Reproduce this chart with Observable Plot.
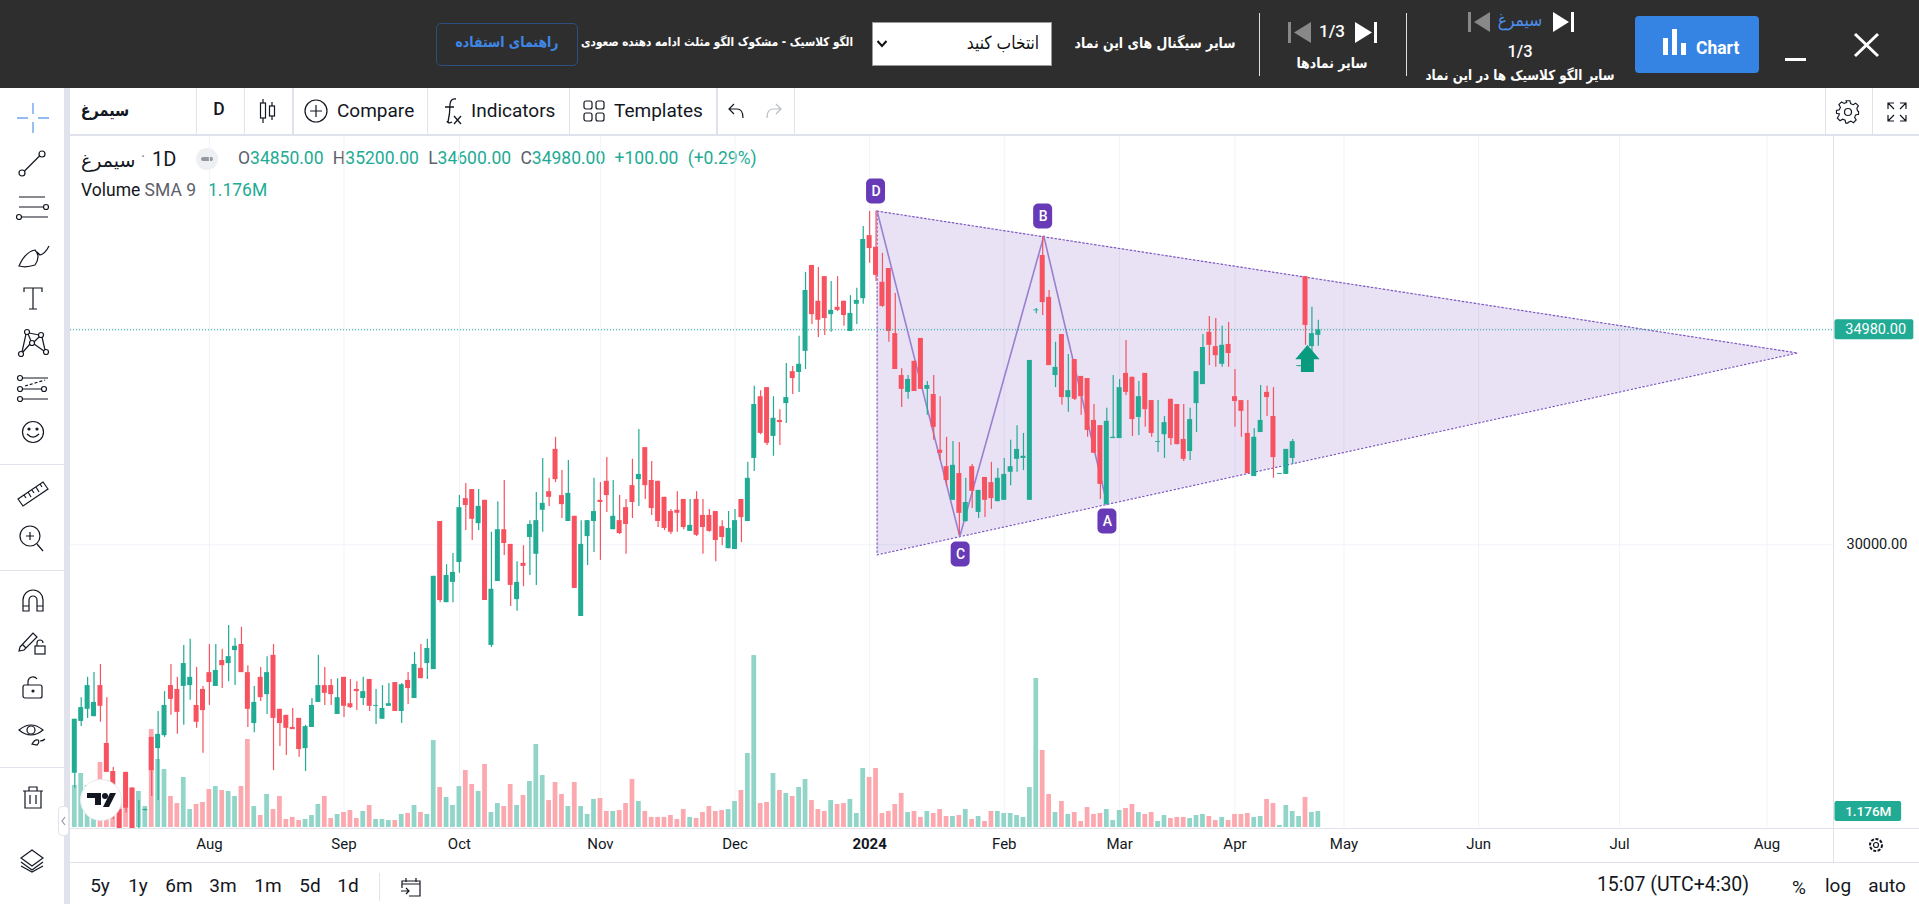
<!DOCTYPE html>
<html><head><meta charset="utf-8">
<script src="https://cdn.jsdelivr.net/npm/d3@7"></script>
<script src="https://cdn.jsdelivr.net/npm/@observablehq/plot@0.6"></script>
<style>
html,body{margin:0;padding:0;background:#fff;overflow:hidden}
#app{position:relative;width:1919px;height:904px;overflow:hidden;font-family:Roboto,"DejaVu Sans",sans-serif;color:#131722}
.box{position:absolute}
.t{position:absolute;white-space:nowrap;transform:translate(-50%,-50%);line-height:1}
.l{position:absolute;white-space:nowrap;transform:translateY(-50%);line-height:1}
.fa{font-family:"DejaVu Sans",Roboto,sans-serif}
.t.fa{transform:translate(-50%,-50%) scaleX(.86)}
.ic{position:absolute;overflow:visible;fill:none;stroke:#131722;stroke-width:1.2}
.plotwrap{position:absolute;left:70px;top:136px}
.plotwrap svg{display:block;overflow:visible}
</style></head><body><div id="app"></div>
<script>
const opens=[24710,25910,26190,26020,26740,25400,24750,23870,24730,24360,23150,23850,25540,25280,25580,26740,26650,26720,26740,26280,26650,27040,26720,27320,27250,27550,27690,27040,25860,26930,26530,27440,26190,26050,25770,25980,25280,25770,26350,26740,26740,26070,26930,26320,26650,26440,26880,26260,25960,26260,26810,26140,26860,26440,27140,27250,27110,30540,28660,29130,29590,31070,31280,30490,31030,27670,29150,30350,30010,28730,29570,30170,29780,30800,31230,32210,31140,30540,30660,28340,30190,30540,31030,31470,30350,30560,30860,31370,31510,32250,31490,31470,31100,30770,30800,31050,30310,31050,30680,30680,30770,30420,29910,29890,31050,30540,32000,33430,33640,32510,32880,33270,34010,33990,34480,36470,35640,36210,35330,35500,35640,34940,35570,35700,37160,36890,36080,36400,34890,33920,33530,34250,34780,33600,33480,32190,31810,31030,31650,30540,31810,30750,31560,31440,31000,31030,31680,31980,32000,31030,35420,36700,35730,33920,34870,33410,34290,33900,33850,32880,32760,30930,32460,32460,33970,33880,32950,33970,33340,32370,32550,33370,33250,32440,32160,33270,33710,34920,34590,34180,34640,33430,33340,32580,31580,32600,33530,32970,31630,31630,32000,34130,36210,34590,34850];
const highs=[25960,26460,26930,27040,27230,26460,24840,23870,24730,24360,24080,23880,25540,26140,26600,27230,26930,27670,27810,27160,26720,27690,27690,27580,28130,27830,28090,27200,26720,27160,27410,27690,26190,26050,26210,25980,25820,26440,27440,27160,26880,26900,26930,26880,26830,26930,26880,26650,26740,26790,26810,26790,27040,27510,27690,27810,29270,30540,29540,29800,31140,31420,31280,31280,31030,30290,31000,31490,30010,29610,29980,30560,31210,32000,31540,32490,31720,31950,30660,30560,30560,31540,31440,32020,31490,31140,31050,31980,32670,32250,31930,31470,31100,30820,31230,31050,31050,31230,31050,30820,30770,30560,30770,30820,31050,31910,33670,33570,33640,33430,33130,34200,34130,34830,36310,36470,36420,36210,36100,36210,35640,35770,35940,37370,37720,37730,36750,36400,35820,34080,33920,34250,34780,33780,33920,33430,32490,32390,32370,31540,31860,31260,31560,31910,31770,32000,32420,32760,32580,34270,35470,37140,35890,34690,34870,34410,34290,33900,33850,33250,32760,33160,33920,33830,34730,33880,33780,33970,33340,33340,32970,33370,33250,33250,33160,34010,34870,35290,35240,35060,35150,34060,33340,33340,32690,33690,33670,33640,31650,32210,32440,34150,36210,35500,35200];
const lows=[24360,25790,25980,26020,25890,24730,23640,22800,23790,23100,23080,23830,24170,24080,25540,26050,25610,25820,26400,25750,25170,26280,26720,26670,26830,26740,27040,25770,25650,26370,26070,24770,25330,25120,25720,25080,24750,25770,26350,26280,26280,26070,26000,26210,26160,26280,26140,25840,25960,26260,26140,25860,26300,26440,26900,26880,27110,28660,28660,28660,29340,30330,30100,30330,28710,27620,29150,29750,28570,28460,29030,29290,29060,30290,30890,31440,30610,30540,28990,28340,29520,29820,29640,30750,30350,30240,29780,30610,30890,31050,30680,30400,30330,30240,30290,30350,30310,30190,29780,30290,29610,29980,29910,29890,30050,30540,31700,32550,32300,32050,32300,32810,33480,33530,34060,35100,34800,34850,34920,35400,35060,34940,35100,35570,36520,36100,35500,34690,34060,33180,33370,33550,33600,33000,32420,31950,31350,31030,30220,30520,30840,30610,30630,30820,31000,31030,31370,31680,31720,31030,35350,35310,34150,33640,33230,33070,33340,33000,32490,32120,31050,30930,32460,32460,33460,32510,32530,32720,32490,32140,32000,32300,32320,31930,31950,32600,33710,34150,34110,34110,34110,32720,32490,31650,31580,32600,32970,31540,31630,31630,31860,34120,34620,34450,34600];
const closes=[25960,26230,26740,26350,26260,24730,24230,22920,23900,23150,23380,23870,24770,25610,26280,26420,26120,27250,26930,25890,26160,26810,27090,27200,27410,27650,27040,26190,26350,26460,27040,25980,25860,25750,25720,25260,25790,26280,26740,26560,26530,26460,26260,26230,26600,26600,26260,26280,26210,26320,26140,26760,26670,27230,26900,27600,29270,28710,29290,29360,30860,30910,30590,30890,28710,28970,30350,30030,29060,29130,29500,30470,30560,30960,31100,31510,30930,31190,28990,30010,30560,30770,30980,31140,30660,30260,30470,30980,31630,31370,30840,30540,30380,30290,30730,30400,30450,30220,30400,30310,30100,30170,30380,30560,30630,31540,33250,32580,32350,32930,32830,33410,33850,34180,35890,35330,35200,35240,35430,35430,35310,35360,35660,37070,36860,36240,35520,34940,34060,33600,33830,33550,33600,33690,32720,32120,31490,31840,30730,30980,31240,31260,31030,31070,31540,31630,31810,32210,32050,34270,35440,35610,34150,34110,33410,33570,33370,33430,32650,32120,31400,32860,32490,33640,33530,32900,33430,33130,32580,32390,32830,32460,32320,31980,32900,34010,34570,34620,34380,34620,34430,33320,33090,31650,32490,32880,33410,32020,31650,32210,32390,34150,35080,34890,34980];
const volumesM=[3.09,3.97,3.09,3.09,4.78,3.45,2.45,2.06,1.72,2.94,2.65,1.54,7.2,5,4.26,2.28,1.76,3.68,1.32,1.69,1.84,2.79,3.01,2.72,2.65,2.28,3.01,6.47,1.54,.88,2.43,1.32,2.28,.59,.74,.51,.59,.88,1.69,2.28,.66,.96,1.1,1.25,.66,1.18,1.62,.59,.59,.51,.51,.96,1.03,1.62,1.1,.96,6.39,2.94,2.21,1.62,3.01,4.19,3.16,2.65,4.63,1.1,1.76,1.54,3.16,1.62,2.35,3.38,6.1,3.82,1.98,3.31,2.43,1.54,3.31,1.54,.96,2.06,2.13,1.18,1.18,1.25,1.76,3.53,1.91,1.18,.74,.74,.74,.88,.59,1.32,.74,.66,1.1,1.54,1.18,1.25,1.32,1.91,2.72,5.44,12.64,1.76,1.84,3.97,2.72,2.5,2.28,2.94,3.53,1.98,1.32,1.18,1.98,1.69,1.76,2.06,1.03,4.34,3.68,4.34,1.03,1.18,1.69,2.5,1.1,1.18,.74,1.18,1.03,1.32,.81,.81,.88,1.32,.59,.81,.44,1.18,1.18,1.03,1.03,.88,.74,2.94,10.95,5.66,2.43,1.1,1.91,.96,1.1,.44,1.47,.96,1.03,1.32,.51,1.25,1.4,1.69,1.1,.96,1.1,.44,.88,.66,.74,.74,.66,.88,.96,.81,.51,.74,.51,.96,.96,1.03,.74,.81,2.06,1.76,.15,1.62,1.18,.81,2.21,1.1,1.176];
const tickBars=[21,42,60,82,103,124,145,163,181,198,219,241,264];
const tickLabels=["Aug","Sep","Oct","Nov","Dec","2024","Feb","Mar","Apr","May","Jun","Jul","Aug"];
const lastPrice=34980, priceTicks=[30000,35000], lastVolume=1.176;
const zigBars=[125.17,138.06,151.17,161.05], zigPrices=[37728,30193,37149,30934];
const triBars=[125.17,268.75,125.17], triPrices=[37728,34442,29768];
const tagNames=["D","C","B","A"], tagBars=[125.0,138.2,151.07,161.1], tagPrices=[38182,29775,37603,30540];
const arrowBar=192.3, arrowPrice=34315;

const UP="#22ab94", DOWN="#f7525f", UPV="#91d5c9", DOWNV="#fba8af", GRID="#f0f3fa", PURPLE="#673ab7";
const bars=opens.map((o,i)=>({i,o,h:highs[i],l:lows[i],c:closes[i],v:volumesM[i],up:closes[i]>=o}));
const W=1849,H=727,PANE_R=86,PANE_B=35;
const xDomain=[-0.67,274.37];
const halfBody=0.39, halfVol=0.37;
const app=document.getElementById("app");

// ---------- volume layer (bottom)
const volPlot=Plot.plot({width:W,height:H,marginLeft:0,marginRight:PANE_R,marginTop:0,marginBottom:PANE_B+1,
  style:{background:"transparent",fontFamily:"Roboto"},
  x:{type:"linear",domain:xDomain,axis:null},y:{domain:[0,50.8],axis:null},
  marks:[
    Plot.ruleX(tickBars,{stroke:GRID,strokeWidth:1}),
    Plot.rect(bars.filter(d=>d.up),{x1:d=>d.i-halfVol,x2:d=>d.i+halfVol,y1:0,y2:"v",fill:UPV}),
    Plot.rect(bars.filter(d=>!d.up),{x1:d=>d.i-halfVol,x2:d=>d.i+halfVol,y1:0,y2:"v",fill:DOWNV}),
    Plot.rect([lastVolume],{x1:274.6,x2:285,y1:d=>d-0.74,y2:d=>d+0.74,fill:UP,rx:2}),
    Plot.text([lastVolume],{x:279.8,y:d=>d,text:d=>d.toFixed(3)+"M",fill:"#fff",fontSize:13.5,fontWeight:500,textAnchor:"middle"})
  ]});

// ---------- price layer (top)
const arrowSymbol={draw(c,size){const r=Math.sqrt(size/Math.PI);
  c.moveTo(0,-r);c.lineTo(.9*r,.05*r);c.lineTo(.48*r,.05*r);c.lineTo(.48*r,r);c.lineTo(-.48*r,r);c.lineTo(-.48*r,.05*r);c.lineTo(-.9*r,.05*r);c.closePath();}};
const tri=triBars.map((x,k)=>({x,y:triPrices[k]}));
const zig=zigBars.map((x,k)=>({x,y:zigPrices[k]}));
const tags=tagNames.map((n,k)=>({n,x:tagBars[k],y:tagPrices[k]}));
const body=(ds,fill)=>Plot.rect(ds,{x1:d=>d.i-halfBody,x2:d=>d.i+halfBody,y1:"o",y2:"c",fill,clip:true});
const wick=(ds,stroke)=>Plot.ruleX(ds,{x:"i",y1:"l",y2:"h",stroke,strokeWidth:1.2,clip:true});
const ups=bars.filter(d=>d.up),downs=bars.filter(d=>!d.up);
const pricePlot=Plot.plot({width:W,height:H,marginLeft:0,marginRight:PANE_R,marginTop:0,marginBottom:PANE_B,
  style:{background:"transparent",fontFamily:"Roboto",fontSize:"15px",color:"#131722"},
  x:{type:"linear",domain:xDomain},y:{domain:[23430,39456]},
  marks:[
    Plot.ruleY(priceTicks,{stroke:GRID,strokeWidth:1}),
    Plot.areaY([{x:triBars[0],a:triPrices[2],b:triPrices[0]},{x:triBars[1],a:triPrices[1],b:triPrices[1]}],{x:"x",y1:"a",y2:"b",fill:PURPLE,fillOpacity:.15}),
    Plot.line(tri.concat(tri[0]),{x:"x",y:"y",stroke:"#7e57c2",strokeWidth:1.2,strokeDasharray:"1.5 2.5",curve:"linear"}),
    Plot.line(zig,{x:"x",y:"y",stroke:"#9a80d0",strokeWidth:1.6}),
    wick(ups,UP),wick(downs,DOWN),body(ups,UP),body(downs,DOWN),
    Plot.ruleY([lastPrice],{stroke:UP,strokeWidth:1,strokeDasharray:"1 2"}),
    Plot.rect(tags,{x1:d=>d.x-1.48,x2:d=>d.x+1.48,y1:d=>d.y-290,y2:d=>d.y+290,fill:PURPLE,rx:5}),
    Plot.text(tags,{x:"x",y:"y",text:"n",fill:"#fff",fontSize:14,fontWeight:500}),
    Plot.dot([arrowBar],{x:d=>d,y:()=>arrowPrice,r:13.5,symbol:arrowSymbol,fill:"#089b7d",stroke:"none"}),
    Plot.axisX({ticks:tickBars.filter((_,k)=>tickLabels[k]!=="2024"),tickFormat:d=>tickLabels[tickBars.indexOf(d)],tickSize:0,tickPadding:10,label:null,fontSize:15,fill:"#131722"}),
    Plot.axisX({ticks:tickBars.filter((_,k)=>tickLabels[k]==="2024"),tickFormat:d=>tickLabels[tickBars.indexOf(d)],tickSize:0,tickPadding:10,label:null,fontSize:15,fontWeight:700,fill:"#131722"}),
    Plot.axisY({anchor:"right",ticks:[priceTicks[0]],tickFormat:d=>d3.format(".2f")(d),tickSize:0,tickPadding:13,label:null,fontSize:14.5,fill:"#131722"}),
    Plot.rect([lastPrice],{x1:274.6,x2:286.9,y1:d=>d-230,y2:d=>d+230,fill:UP,rx:2}),
    Plot.text([lastPrice],{x:280.95,y:d=>d,text:d=>d.toFixed(2),fill:"#fff",fontSize:14.5,textAnchor:"middle"})
  ]});

// ---------- page chrome
const chrome=`
<div class="box" style="left:0;top:0;width:1919px;height:88px;background:#2e2e2e"></div>
<div class="box" style="left:64px;top:88px;width:6px;height:816px;background:#e0e3eb"></div>
<div class="box" style="left:70px;top:134px;width:1849px;height:2px;background:#e0e3eb"></div>
<div class="box" style="left:1833px;top:136px;width:1px;height:727px;background:#e0e3eb"></div>
<div class="box" style="left:70px;top:828px;width:1849px;height:1px;background:#e0e3eb"></div>
<div class="box" style="left:70px;top:862px;width:1849px;height:1px;background:#e0e3eb"></div>
${[196,244,427,569,794,1825,1872].map(x=>`<div class="box" style="left:${x}px;top:88px;width:1px;height:46px;background:#e0e3eb"></div>`).join("")}
${[292,716].map(x=>`<div class="box" style="left:${x}px;top:88px;width:2px;height:46px;background:#e0e3eb"></div>`).join("")}
${[464,570,767].map(y=>`<div class="box" style="left:0;top:${y}px;width:64px;height:1px;background:#e0e3eb"></div>`).join("")}
<div class="box" style="left:379px;top:873px;width:1px;height:28px;background:#e0e3eb"></div>

<!-- dark bar -->
<div class="box" style="left:436px;top:23px;width:140px;height:41px;border:1px solid #2b5080;border-radius:5px"></div>
<div class="t fa" style="left:507px;top:42px;color:#3f87e6;font-size:14.5px;font-weight:700">راهنمای استفاده</div>
<div class="t fa" style="left:717px;top:42px;color:#fff;font-size:12.2px;font-weight:700">الگو کلاسیک - مشکوک الگو مثلث ادامه دهنده صعودی</div>
<div class="box" style="left:872px;top:22px;width:180px;height:44px;background:#fff;border:1px solid #999;box-sizing:border-box"></div>
<svg class="ic" style="left:876px;top:39px;stroke:#111;stroke-width:2" width="12" height="10"><path d="M1.5 2 L6 7 L10.5 2"/></svg>
<div class="t fa" style="left:1003px;top:43px;color:#111;font-size:18px">انتخاب کنید</div>
<div class="t fa" style="left:1155px;top:43px;color:#fff;font-size:14.5px;font-weight:700">سایر سیگنال های این نماد</div>
<div class="box" style="left:1259px;top:13px;width:1px;height:63px;background:#ddd"></div>
<div class="box" style="left:1406px;top:13px;width:1px;height:63px;background:#ddd"></div>
<svg class="ic" style="left:1288px;top:22px;stroke:none" width="90" height="22"><path fill="#888" d="M0 0h3v21h-3z M23 0v21L6 10.5z"/><path fill="#fff" d="M67 0v21L84 10.5z M86 0h3v21h-3z"/></svg>
<div class="t" style="left:1332px;top:31px;color:#fff;font-size:17px;font-weight:500">1/3</div>
<div class="t fa" style="left:1332px;top:63px;color:#fff;font-size:14.5px;font-weight:700">سایر نمادها</div>
<svg class="ic" style="left:1468px;top:12px;stroke:none" width="108" height="22"><path fill="#888" d="M0 0h3v20h-3z M22 0v20L6 10z"/><path fill="#fff" d="M85 0v20L101 10z M103 0h3v20h-3z"/></svg>
<div class="t fa" style="left:1520px;top:20px;color:#4c8fe8;font-size:18px">سیمرغ</div>
<div class="t" style="left:1520px;top:52px;color:#fff;font-size:16.5px;font-weight:500">1/3</div>
<div class="t fa" style="left:1520px;top:76px;color:#fff;font-size:13.9px;font-weight:700">سایر الگو کلاسیک ها در این نماد</div>
<div class="box" style="left:1635px;top:16px;width:124px;height:57px;background:#3584e4;border-radius:4px"></div>
<svg class="ic" style="left:1663px;top:29px;stroke:none" width="24" height="28"><path fill="#fff" d="M0 9h5v17h-5z M9 0h5v26h-5z M18 14h5v12h-5z"/></svg>
<div class="l" style="left:1696px;top:49px;color:#fff;font-size:17.5px;font-weight:700">Chart</div>
<div class="box" style="left:1785px;top:58px;width:21px;height:3px;background:#fff"></div>
<svg class="ic" style="left:1853px;top:32px;stroke:#fff;stroke-width:3" width="27" height="26"><path d="M2 2 L25 24 M25 2 L2 24"/></svg>

<!-- top toolbar -->
<div class="t fa" style="left:105px;top:110px;font-size:16.8px;font-weight:700">سیمرغ</div>
<div class="t" style="left:219px;top:110px;font-size:17.5px;font-weight:500">D</div>
<svg class="ic" style="left:258px;top:98px" width="20" height="26"><path d="M5 1v24 M14 4v18"/><rect x="2.5" y="5" width="5" height="15" fill="#fff"/><rect x="11.5" y="8" width="5" height="10" fill="#fff"/></svg>
<svg class="ic" style="left:304px;top:99px" width="24" height="24"><circle cx="12" cy="12" r="11"/><path d="M12 6v12 M6 12h12"/></svg>
<div class="l" style="left:337px;top:110px;font-size:19px">Compare</div>
<svg class="ic" style="left:441px;top:96px" width="22" height="30"><path d="M11 26 Q7 28 6 25 M7 26 Q9 18 9 8 Q10 2 15 3 M4 11h9 M13 20l7 8 M20 20l-7 8" stroke-width="1.3"/></svg>
<div class="l" style="left:471px;top:110px;font-size:19px">Indicators</div>
<svg class="ic" style="left:583px;top:100px" width="22" height="22"><rect x="1" y="1" width="8" height="8" rx="2"/><rect x="13" y="1" width="8" height="8" rx="2"/><rect x="1" y="13" width="8" height="8" rx="2"/><rect x="13" y="13" width="8" height="8" rx="2"/></svg>
<div class="l" style="left:614px;top:110px;font-size:19px">Templates</div>
<svg class="ic" style="left:727px;top:102px" width="20" height="18"><path d="M7 2L2 7l5 5 M2 7h8q6 0 6 9"/></svg>
<svg class="ic" style="left:763px;top:102px;stroke:#b8bcc6" width="20" height="18"><path d="M13 2l5 5-5 5 M18 7h-8q-6 0-6 9"/></svg>
<svg class="ic" style="left:1836px;top:100px" width="24" height="24"><circle cx="12" cy="12" r="3.5"/><path d="M10 1h4l.7 3 2.6 1.1 2.7-1.6 2.8 2.8-1.6 2.7L22 11.600v0l1 .4v3l-3 .7-1.100 2.600 1.600 2.700-2.800 2.800-2.700-1.600-2.600 1.100-.7 1h-2l-.7-3-2.600-1.100-2.700 1.600-2.800-2.800 1.600-2.700L3 14.700 0 14v-3l3-.7 1.100-2.600-1.600-2.700 2.800-2.800 2.700 1.600 2.600-1.100z" transform="scale(.96) translate(.5 -.2)"/></svg>
<svg class="ic" style="left:1887px;top:102px" width="20" height="20"><path d="M1 7V1h6 M1 1l6 6 M19 7V1h-6 M19 1l-6 6 M1 13v6h6 M1 19l6-6 M19 13v6h-6 M19 19l-6-6"/></svg>

<!-- legend -->
<div class="l fa" style="left:81px;top:160px;font-size:19px">سیمرغ</div>
<div class="t" style="left:143px;top:157px;font-size:16px;color:#888">·</div>
<div class="l" style="left:152px;top:159px;font-size:20px">1D</div>
<div class="box" style="left:196px;top:148px;width:22px;height:22px;border-radius:50%;background:#eeeff2"></div>
<div class="box" style="left:201px;top:157px;width:12px;height:4px;border-radius:2px;background:#9598a1"></div>
<div class="l" style="left:238px;top:159px;font-size:17.5px;word-spacing:5px;color:#22ab94"><span style="color:#5d606b">O</span>34850.00 <span style="color:#5d606b">H</span>35200.00 <span style="color:#5d606b">L</span>34600.00 <span style="color:#5d606b">C</span>34980.00 +100.00 (+0.29%)</div>
<div class="l" style="left:81px;top:191px;font-size:17.5px">Volume <span style="color:#5d606b">SMA 9</span></div>
<div class="l" style="left:208px;top:191px;font-size:17.5px;color:#22ab94">1.176M</div>

<!-- left toolbar icons -->
<svg class="ic" style="left:16px;top:103px;stroke:#6ea6ee;stroke-width:1.4" width="34" height="30"><path d="M17 0v11 M17 19v11 M1 15h11 M22 15h11"/></svg>
<svg class="ic" style="left:17px;top:149px" width="30" height="30"><circle cx="5" cy="24" r="3"/><circle cx="25" cy="5" r="3"/><path d="M7.500 22L22.500 7"/></svg>
<svg class="ic" style="left:16px;top:194px" width="34" height="30"><path d="M3 3h26 M3 13h25 M6 23h26"/><circle cx="30" cy="13" r="2.500"/><circle cx="3" cy="23" r="2.500"/></svg>
<svg class="ic" style="left:17px;top:242px" width="34" height="28"><path d="M2 24 Q8 10 18 8 Q24 14 18 23 Q9 26 2 24z M20 10l3 3 Q28 12 32 4"/></svg>
<svg class="ic" style="left:23px;top:286px" width="20" height="24"><path d="M1 6V2h18v4 M10 2v21 M6 23h8"/></svg>
<svg class="ic" style="left:17px;top:328px" width="32" height="30"><circle cx="10" cy="4" r="2.500"/><circle cx="24" cy="7" r="2.500"/><circle cx="4" cy="26" r="2.500"/><circle cx="29" cy="24" r="2.500"/><circle cx="15" cy="15" r="2.500"/><path d="M9 6L5 24 M11 6l3 7 M22 9l-5 5 M25 9l3 13 M13 16l-7 8 M17 16l10 7 M12 5l10 2"/></svg>
<svg class="ic" style="left:16px;top:375px" width="34" height="28"><circle cx="4" cy="3" r="2.500"/><circle cx="4" cy="14" r="2.500"/><circle cx="4" cy="24" r="2.500"/><circle cx="28" cy="14" r="2.500"/><path d="M7 3h25 M7 14h19 M7 24h25"/><path d="M9 11l20-6" stroke-dasharray="3 2"/></svg>
<svg class="ic" style="left:21px;top:420px" width="24" height="24"><circle cx="12" cy="12" r="10.500"/><circle cx="8" cy="9" r="1" fill="#131722"/><circle cx="16" cy="9" r="1" fill="#131722"/><path d="M6 14q6 6 12 0"/></svg>
<svg class="ic" style="left:16px;top:480px" width="33" height="28"><path d="M2 19L27 2l5 7L7 26z M8 15l2 3 M12 12l3 5 M16 10l2 3 M20 7l3 5 M24 4l2 3"/></svg>
<svg class="ic" style="left:19px;top:525px" width="26" height="28"><circle cx="11" cy="11" r="10"/><path d="M7 11h8 M11 7v8 M18 19l6 7"/></svg>
<svg class="ic" style="left:22px;top:589px" width="22" height="24"><path d="M1 22V11a10 10 0 0120 0v11h-6V11a4 4 0 00-8 0v11z M1 17h6 M15 17h6"/></svg>
<svg class="ic" style="left:18px;top:630px" width="28" height="26"><path d="M2 17L15 3l4 4L6 20l-5 1z M4 14l4 4"/><rect x="17" y="16" width="10" height="8"/><path d="M19 16v-3a3 3 0 016 0"/></svg>
<svg class="ic" style="left:22px;top:676px" width="22" height="24"><rect x="1" y="9" width="19" height="13" rx="2"/><path d="M6 9V5a5 5 0 019-2"/><circle cx="11" cy="15" r="1" fill="#131722"/></svg>
<svg class="ic" style="left:18px;top:721px" width="30" height="26"><path d="M1 9q12-10 24 0q-12 10-24 0z"/><circle cx="13" cy="9" r="4"/><path d="M14 23q3-5 6-4 2 2-1 5z M22 20q3 0 5-2"/></svg>
<svg class="ic" style="left:22px;top:785px" width="22" height="24"><path d="M1 6h20 M7 6V2h8v4 M3 6v17h16V6 M8 10v9 M14 10v9"/></svg>
<div class="box" style="left:58px;top:806px;width:11px;height:30px;background:#fff;border:1px solid #e0e3eb;border-radius:4px;box-sizing:border-box"></div>
<svg class="ic" style="left:60px;top:816px;stroke:#9598a1" width="7" height="10"><path d="M5 1L2 5l3 4"/></svg>
<svg class="ic" style="left:20px;top:849px" width="24" height="24"><path d="M12 1l11 8-11 8L1 9z M1 13l11 8 11-8 M1 17l11 6 11-6"/></svg>

<!-- bottom bar -->
${[["5y",100],["1y",138],["6m",179],["3m",223],["1m",268],["5d",310],["1d",348]].map(([s,x])=>`<div class="t" style="left:${x}px;top:885px;font-size:19px">${s}</div>`).join("")}
<svg class="ic" style="left:400px;top:877px" width="22" height="20"><path d="M2 11V4h18v15H9 M2 7h18 M6 1v4 M16 1v4 M1 14h8 M6 11l3 3-3 3"/></svg>
<div class="t" style="left:1673px;top:885px;font-size:19.5px">15:07 (UTC+4:30)</div>
<div class="t" style="left:1799px;top:887px;font-size:19px">%</div>
<div class="t" style="left:1838px;top:885px;font-size:19px">log</div>
<div class="t" style="left:1887px;top:885px;font-size:19px">auto</div>
<svg class="ic" style="left:1868px;top:837px" width="16" height="16"><circle cx="8" cy="8" r="2.500"/><circle cx="8" cy="8" r="6" stroke-dasharray="3 1.500" stroke-width="2"/></svg>
`;
app.insertAdjacentHTML("beforeend",chrome);

const wrap1=document.createElement("div");wrap1.className="plotwrap";wrap1.append(volPlot);app.append(wrap1);
const wrap2=document.createElement("div");wrap2.className="plotwrap";wrap2.append(pricePlot);app.append(wrap2);

// TradingView attribution badge
app.insertAdjacentHTML("beforeend",`<svg class="ic" style="left:79px;top:778px;stroke:none" width="44" height="44">
<circle cx="22" cy="22" r="20.500" fill="#fff" stroke="#e8e9ee" stroke-width="1"/>
<path fill="#131722" d="M8 15h14v12h-6v-7H8z"/><circle cx="26" cy="18" r="3" fill="#131722"/><path fill="#131722" d="M31 15h6L30 29h-6z"/></svg>`);
</script></body></html>
